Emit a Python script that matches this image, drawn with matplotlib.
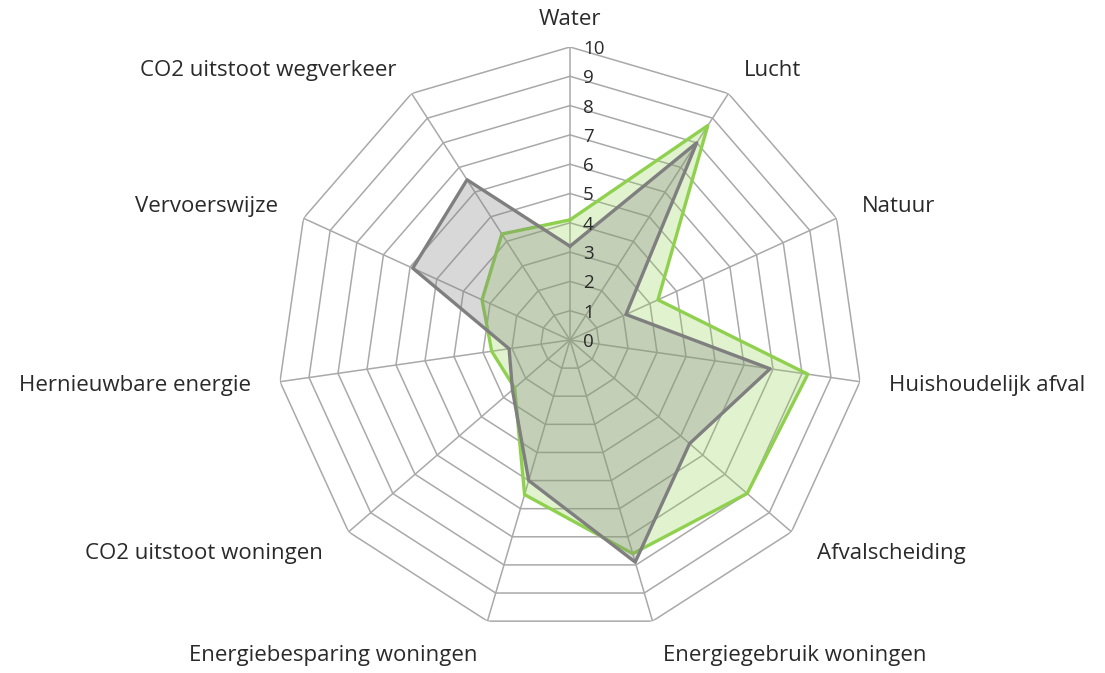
import numpy as np
import matplotlib
matplotlib.use("Agg")
import matplotlib.pyplot as plt

plt.rcParams['font.family'] = ['Open Sans', 'DejaVu Sans']

categories = [
    "Water", "Lucht", "Natuur", "Huishoudelijk afval", "Afvalscheiding",
    "Energiegebruik woningen", "Energiebesparing woningen",
    "CO2 uitstoot woningen", "Hernieuwbare energie", "Vervoerswijze",
    "CO2 uitstoot wegverkeer",
]
green_values = [4.1, 8.7, 3.3, 8.2, 8.0, 7.6, 5.5, 2.5, 2.7, 3.3, 4.3]
gray_values = [3.2, 8.0, 2.1, 6.9, 5.4, 7.9, 5.0, 2.6, 2.1, 5.9, 6.5]
tick_values = list(range(0, 11))

n = len(categories)
theta = np.linspace(0, 2 * np.pi, n, endpoint=False)
theta_closed = np.append(theta, theta[0])

W, H = 1105, 673
fig = plt.figure(figsize=(W / 100, H / 100), dpi=100)
cx, cy, R = 570, 340, 293
ax = fig.add_axes([(cx - R) / W, (H - cy - R) / H, 2 * R / W, 2 * R / H],
                  projection='polar')
ax.set_theta_zero_location('N')
ax.set_theta_direction(-1)
ax.set_ylim(0, 10)
ax.grid(False)
ax.set_xticks([])
ax.set_yticks([])
ax.spines['polar'].set_visible(False)
ax.patch.set_visible(False)

grid_color = '#a9a9a9'
# polygonal rings
for v in tick_values[1:]:
    ax.plot(theta_closed, [v] * (n + 1), color=grid_color, lw=1.1, zorder=1)
# spokes
for t in theta:
    ax.plot([t, t], [0, 10], color=grid_color, lw=1.1, zorder=1)


def closed(vals):
    return list(vals) + [vals[0]]


# series
ax.fill(theta_closed, closed(green_values), color='#92d050', alpha=0.27,
        lw=0, zorder=2)
ax.plot(theta_closed, closed(green_values), color='#8fd14f', lw=2.4, zorder=3)
ax.fill(theta_closed, closed(gray_values), color='#7f7f7f', alpha=0.30,
        lw=0, zorder=4)
ax.plot(theta_closed, closed(gray_values), color='#7f7f7f', lw=2.4, zorder=5)

text_color = '#2a2a2a'
# radial tick labels along the top spoke
for v in tick_values:
    ax.annotate(str(v), xy=(0, v), xytext=(13, -2), textcoords='offset pixels',
                ha='left', va='center', fontsize=13.5, color=text_color,
                zorder=6)

# category labels
for t, lab in zip(theta, categories):
    s, c = np.sin(t), np.cos(t)
    r_lab = 10.95 + 0.3 * max(0.0, -c)
    if abs(s) < 0.05:
        ha = 'center'
    elif s > 0:
        ha = 'left'
    else:
        ha = 'right'
    ax.text(t, r_lab, lab, ha=ha, va='center', fontsize=16,
            color=text_color)

fig.savefig('out.png', dpi=100)
